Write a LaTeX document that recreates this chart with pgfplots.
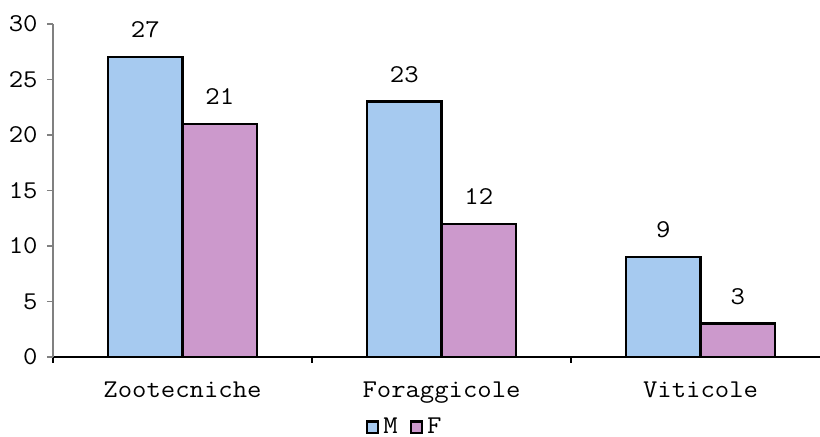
\documentclass[border=0pt]{standalone}
\usepackage{fontspec}
\newfontfamily\cour[FakeStretch=1.09]{Latin Modern Mono}
\usepackage{pgfplots}
\pgfplotsset{compat=1.18}
\usetikzlibrary{calc}
\definecolor{mblue}{HTML}{A6CAF0}
\definecolor{fpink}{HTML}{CC99CC}
\begin{document}
\begin{tikzpicture}
\begin{axis}[
  name=ax,
  scale only axis, width=383.5pt, height=166.5pt,
  ybar=0pt, bar width=37.25pt,
  xmin=-0.5, xmax=2.461, ymin=0, ymax=30,
  enlargelimits=false, clip=false,
  axis x line*=bottom, axis y line*=left,
  x axis line style={black, line width=0.6pt, -},
  y axis line style={gray, line width=0.6pt, -},
  xtick={0,1,2}, xticklabels={Zootecniche,Foraggicole,Viticole},
  major x tick style={draw=none},
  minor xtick={-0.5,0.5,1.5},
  minor x tick style={black, line width=0.6pt},
  minor tick length=3pt,
  ytick={0,5,...,30},
  y tick style={gray, line width=0.6pt},
  major tick length=3pt,
  tick align=outside,
  /pgf/number format/assume math mode=true,
  font=\cour\fontsize{12.8}{14}\selectfont,
  xticklabel style={inner sep=0pt, yshift=-9pt},
  yticklabel style={inner sep=0pt, xshift=-4.5pt},
  nodes near coords,
  nodes near coords style={inner sep=0pt, anchor=south, yshift=9pt, black},
  legend columns=-1,
  legend style={at={(0.46,-0.21)}, anchor=center, draw=none, fill=none,
    font=\cour\fontsize{12.8}{14}\selectfont,
    /tikz/every odd column/.append style={column sep=0pt},
    /tikz/every even column/.append style={column sep=4pt}},
]
\addplot[fill=mblue, draw=black, line width=1.2pt,
  legend image code/.code={\draw[fill=mblue, draw=black, line width=1.2pt] (0pt,-3pt) rectangle (5.5pt,2.8pt);}]
  coordinates {(0,27) (1,23) (2,9)};
\addplot[fill=fpink, draw=black, line width=1.2pt,
  legend image code/.code={\draw[fill=fpink, draw=black, line width=1.2pt] (0pt,-3pt) rectangle (5.5pt,2.8pt);}]
  coordinates {(0,21) (1,12) (2,3)};
\legend{M,F}
\end{axis}
\pgfresetboundingbox
\path[use as bounding box] ($(ax.south west)+(-26.5pt,-40pt)$) rectangle ($(ax.north east)+(0pt,12pt)$);
\end{tikzpicture}
\end{document}
